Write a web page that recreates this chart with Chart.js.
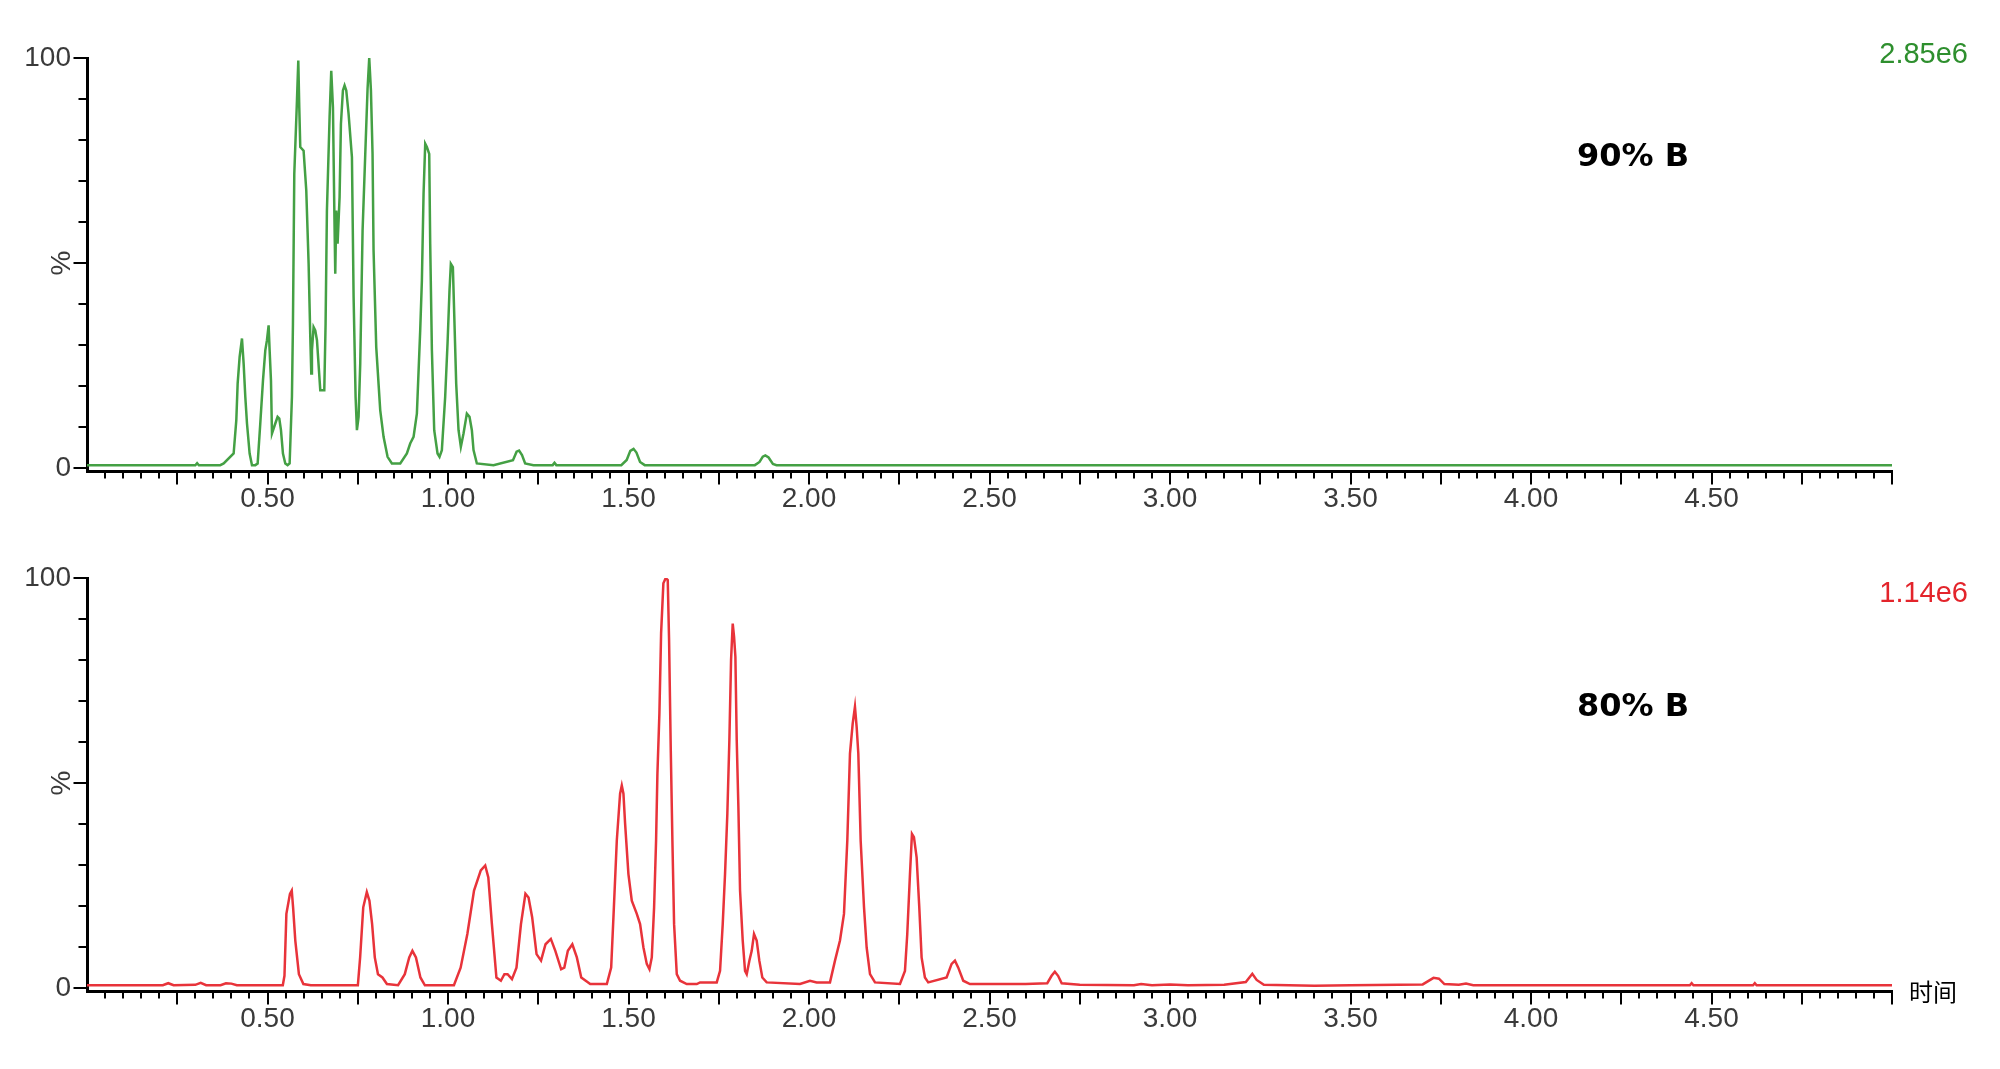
<!DOCTYPE html>
<html><head><meta charset="utf-8">
<script src="https://cdn.jsdelivr.net/npm/chart.js@4"></script>
<style>html,body{margin:0;padding:0;background:#fff;} canvas{display:block;}</style>
</head><body>
<canvas id="c1" width="2000" height="520"></canvas>
<canvas id="c2" width="2000" height="549"></canvas>
<script>
// ---- axis ticks ----
const xMajorTicks = [0.5, 1.0, 1.5, 2.0, 2.5, 3.0, 3.5, 4.0, 4.5];
const xTickLabels = ['0.50', '1.00', '1.50', '2.00', '2.50', '3.00', '3.50', '4.00', '4.50'];
const yTickValues = [0, 100];
const yTickLabels = ['0', '100'];

// ---- top trace: 90% B (time, min ; intensity, %) ----
const topTime = [
  0, 0.30, 0.305, 0.31, 0.369,
  0.3786, 0.4062, 0.4136, 0.4173, 0.4228, 0.4293, 0.4339, 0.4385, 0.4432, 0.4505, 0.457, 0.4662,
  0.4727, 0.480, 0.4875, 0.4939, 0.4985, 0.5031, 0.5059, 0.5096, 0.5124, 0.5216, 0.528, 0.5327, 0.5373, 0.5428, 0.5493, 0.5557,
  0.5613, 0.5677, 0.5705, 0.5742, 0.5816, 0.5853, 0.588, 0.5908, 0.600, 0.6074, 0.6139, 0.6185, 0.6213, 0.6231, 0.6277, 0.6323, 0.637, 0.6462, 0.6573,
  0.6609, 0.6646, 0.672, 0.6766, 0.6813, 0.685, 0.6877, 0.6905, 0.6942, 0.6997, 0.7034, 0.7089, 0.7135, 0.7182, 0.7246, 0.7339, 0.7385, 0.744, 0.7477, 0.7523, 0.7569, 0.7634, 0.7708, 0.7772, 0.7818, 0.7865, 0.791, 0.7938, 0.8012, 0.8123, 0.8215, 0.8326, 0.8446,
  0.8677, 0.8861, 0.8953, 0.9046, 0.9138, 0.923, 0.9277, 0.9323, 0.9369, 0.9415, 0.948, 0.9507, 0.9554, 0.9618, 0.971, 0.9765, 0.983, 0.9922, 0.9987, 1.0042, 1.0079, 1.0135, 1.0172, 1.0227, 1.0292, 1.0356, 1.043, 1.0522, 1.0596, 1.0661, 1.0707, 1.0799,
  1.126, 1.18, 1.19, 1.197, 1.205, 1.2137, 1.2368, 1.29, 1.295, 1.30, 1.48, 1.495, 1.505, 1.514, 1.522, 1.532, 1.545, 1.85, 1.863, 1.872, 1.879, 1.888, 1.90, 1.91, 5.0
];
const topPct = [
  0.7, 0.7, 1.2, 0.7, 0.73,
  1.14, 3.57, 11.69, 20.6, 27.1, 31.6, 25.5, 17.4, 10.88, 3.57, 0.73, 0.73,
  1.14, 10.88, 21.4, 28.7, 31.2, 34.8, 28.7, 21.4, 8.44, 10.88, 12.5, 12.1, 9.25, 3.57, 1.14, 0.73,
  1.14, 17.4, 35.2, 71.8, 89.6, 99.4, 88.0, 78.3, 77.4, 67.7, 49.8, 32.0, 23.1, 28.7, 34.4, 33.6, 31.2, 19.0, 19.0,
  35.2, 62.8, 85.6, 96.9, 88.0, 63.6, 47.4, 62.8, 54.7, 66.1, 83.9, 92.1, 93.3, 92.1, 86.4, 75.8, 41.7, 17.4, 9.25, 12.5, 25.5, 58.0, 76.6, 92.5, 100, 92.1, 76.6, 53.1, 29.5, 14.1, 7.63, 2.76, 1.14,
  1.14, 3.57, 6.0, 7.63, 13.3, 33.6, 45.8, 66.9, 79.1, 78.3, 76.6, 54.7, 28.7, 9.25, 3.57, 2.76, 4.38, 17.4, 30.4, 43.4, 49.8, 49.0, 37.7, 20.6, 9.25, 5.2, 8.44, 13.3, 12.5, 9.25, 4.38, 1.14,
  0.73, 1.95, 4.0, 4.3, 3.2, 1.14, 0.73, 0.73, 1.3, 0.73, 0.73, 2.0, 4.2, 4.7, 3.8, 1.5, 0.73, 0.73, 1.5, 2.8, 3.1, 2.6, 1.0, 0.73, 0.73
];

// ---- bottom trace: 80% B ----
const bottomTime = [
  0, 0.21, 0.225, 0.24, 0.30, 0.315, 0.33, 0.37, 0.385, 0.40, 0.415, 0.5424,
  0.5470, 0.5523, 0.5622, 0.5672, 0.5709, 0.577, 0.587, 0.5994, 0.62,
  0.7503, 0.7566, 0.7652, 0.7751, 0.7824, 0.7898, 0.7972, 0.806, 0.8184, 0.8308, 0.8617,
  0.8803, 0.8926, 0.9014, 0.9112, 0.9236, 0.936, 1.0164,
  1.035, 1.0536, 1.0721, 1.0908, 1.1031, 1.1117, 1.1216, 1.1341, 1.1465, 1.1562, 1.165, 1.1772, 1.1897, 1.2021, 1.2145, 1.2231, 1.2331, 1.2453, 1.2577, 1.2702, 1.2849, 1.2973, 1.3134, 1.3222, 1.332, 1.3444, 1.3569, 1.3691, 1.394, 1.44,
  1.452, 1.4583, 1.4676, 1.4767, 1.4814, 1.486, 1.4906, 1.4998, 1.5091, 1.523, 1.5321, 1.5414, 1.5506, 1.558, 1.5645, 1.5709, 1.5764, 1.5801, 1.5856, 1.5903, 1.5966, 1.6032, 1.6087, 1.6124, 1.6171, 1.6216, 1.6263, 1.6337, 1.6429, 1.6614,
  1.6891, 1.6982, 1.7444, 1.7536, 1.761, 1.7674, 1.7738, 1.7794, 1.7841, 1.7887, 1.7924, 1.7961, 1.7998, 1.8044, 1.809, 1.8164, 1.8228, 1.8275, 1.8348, 1.8413, 1.8477, 1.8551, 1.8624, 1.8707, 1.8828,
  1.9751, 2.0028, 2.0212, 2.0581, 2.072, 2.0858, 2.0969, 2.1061, 2.1135, 2.121, 2.1273, 2.132, 2.1366, 2.1431, 2.1524, 2.1597, 2.169, 2.1828, 2.252, 2.2658, 2.2722, 2.2797, 2.2852, 2.2907, 2.2981, 2.3055, 2.3119, 2.3211, 2.3304, 2.3812, 2.3951, 2.4043, 2.4135, 2.4273, 2.4458,
  2.60, 2.66, 2.672, 2.681, 2.69, 2.70, 2.75, 2.90, 2.92, 2.95, 3.00, 3.05, 3.15, 3.21, 3.228, 3.24, 3.26, 3.40, 3.50, 3.70, 3.73, 3.745, 3.76, 3.80, 3.82, 3.84, 4.44, 4.445, 4.45, 4.615, 4.62, 4.625, 5.0
];
const bottomPct = [
  0.7, 0.7, 1.2, 0.7, 0.8, 1.3, 0.7, 0.7, 1.2, 1.1, 0.7, 0.7,
  3.0, 18.1, 23.0, 23.8, 19.7, 11.6, 3.4, 1.0, 0.7,
  0.7, 7.5, 19.7, 23.4, 21.3, 15.6, 7.5, 3.4, 2.6, 1.0, 0.7,
  3.4, 7.5, 9.1, 7.5, 2.6, 0.7, 0.7,
  5.0, 13.2, 23.8, 28.7, 29.9, 27.0, 15.6, 2.6, 1.8, 3.4, 3.4, 2.2, 5.0, 15.6, 23.0, 22.1, 17.3, 8.3, 6.7, 10.7, 12.0, 9.1, 4.6, 5.0, 9.1, 10.7, 7.5, 2.6, 1.0, 1.0,
  5.0, 17.3, 36.0, 47.4, 49.4, 47.4, 40.1, 27.8, 21.3, 18.1, 15.6, 9.9, 5.9, 4.6, 7.5, 19.7, 36.0, 52.3, 67.0, 86.5, 98.7, 100, 99.5, 84.9, 58.0, 36.0, 15.6, 3.4, 1.8, 1.0,
  1.0, 1.4, 1.4, 4.2, 15.6, 27.8, 42.5, 60.4, 80.0, 88.9, 85.7, 80.8, 60.4, 44.1, 23.8, 11.6, 4.2, 3.4, 6.7, 9.1, 13.2, 11.6, 6.7, 2.6, 1.4,
  1.0, 1.8, 1.4, 1.4, 6.7, 11.6, 18.1, 36.0, 57.2, 64.5, 68.6, 63.7, 57.2, 36.0, 19.7, 9.9, 3.4, 1.4, 1.0, 4.2, 13.2, 27.8, 37.6, 36.8, 31.9, 19.7, 7.5, 2.6, 1.4, 2.6, 5.9, 6.7, 5.0, 1.8, 1.0,
  1.0, 1.2, 3.0, 4.0, 3.0, 1.2, 0.8, 0.7, 1.0, 0.7, 0.9, 0.7, 0.8, 1.5, 3.5, 2.0, 0.8, 0.6, 0.7, 0.9, 2.5, 2.3, 1.0, 0.8, 1.1, 0.7, 0.7, 1.2, 0.7, 0.7, 1.2, 0.7, 0.7
];

// ---- decoration plugin: minor ticks, rotated "%" label, annotations ----
const decorPlugin = {
  id: 'decor',
  afterDraw(chart) {
    const o = chart.options.plugins.decor;
    const ctx = chart.ctx;
    const ca = chart.chartArea;
    const xs = chart.scales.x, ys = chart.scales.y;
    ctx.save();
    ctx.strokeStyle = '#000';
    ctx.lineWidth = 2;
    ctx.beginPath();
    for (let i = 1; i <= 100; i++) {
      const px = Math.round(xs.getPixelForValue(i / 20));
      const len = i % 5 === 0 ? 12 : 6;
      ctx.moveTo(px, ca.bottom);
      ctx.lineTo(px, ca.bottom + 1.5 + len);
    }
    for (let j = 0; j <= 10; j++) {
      const py = Math.round(ys.getPixelForValue(j * 10));
      const len = (j % 5 === 0) ? 12 : 7;
      ctx.moveTo(ca.left, py);
      ctx.lineTo(ca.left - 1.5 - len, py);
    }
    ctx.stroke();

    // rotated % at 50
    ctx.save();
    ctx.fillStyle = '#3a3a3a';
    ctx.font = '28px "Liberation Sans", Arial, sans-serif';
    ctx.translate(ca.left - 25, ys.getPixelForValue(50));
    ctx.rotate(-Math.PI / 2);
    ctx.textAlign = 'center';
    ctx.textBaseline = 'middle';
    ctx.fillText('%', 0, 0);
    ctx.restore();

    // method label
    ctx.fillStyle = '#000';
    ctx.font = 'bold 32px "DejaVu Sans", Verdana, sans-serif';
    ctx.textAlign = 'left';
    ctx.textBaseline = 'middle';
    ctx.fillText(o.label, o.labelX, o.labelY);

    // intensity scale
    ctx.fillStyle = o.scaleColor;
    ctx.font = '29px "Liberation Sans", Arial, sans-serif';
    ctx.textAlign = 'right';
    ctx.fillText(o.scaleText, o.scaleX, o.scaleY);

    if (o.axisTitle) {
      ctx.fillStyle = '#000';
      ctx.font = '24px "Noto Sans CJK SC", sans-serif';
      ctx.textAlign = 'left';
      ctx.fillText(o.axisTitle, ca.right + 17, ca.bottom + 1);
    }
    ctx.restore();
  }
};

function makeChart(id, time, pct, color, decor, bottomPad) {
  const data = time.map((t, i) => ({ x: t, y: pct[i] }));
  return new Chart(document.getElementById(id), {
    type: 'line',
    data: { datasets: [{ data, borderColor: color, borderWidth: 2.5, pointRadius: 0, tension: 0, fill: false }] },
    plugins: [decorPlugin],
    options: {
      responsive: false,
      devicePixelRatio: 1,
      animation: false,
      layout: { padding: { top: 58, left: 0, right: 108, bottom: bottomPad } },
      plugins: { legend: { display: false }, tooltip: { enabled: false }, decor },
      scales: {
        x: {
          type: 'linear', min: 0, max: 5,
          afterBuildTicks: s => { s.ticks = xMajorTicks.map(v => ({ value: v })); },
          afterFit: s => { s.height = 40; },
          ticks: {
            autoSkip: false, maxRotation: 0, minRotation: 0, padding: 11, color: '#3a3a3a',
            font: { family: '"Liberation Sans", Arial, sans-serif', size: 28 },
            callback: (v, i) => xTickLabels[i]
          },
          grid: { drawOnChartArea: false, drawTicks: false },
          border: { color: '#000', width: 3 }
        },
        y: {
          type: 'linear', min: -0.7, max: 100,
          afterBuildTicks: s => { s.ticks = yTickValues.map(v => ({ value: v })); },
          afterFit: s => { s.width = 87; },
          ticks: {
            padding: 16, color: '#3a3a3a',
            font: { family: '"Liberation Sans", Arial, sans-serif', size: 28 },
            callback: (v, i) => yTickLabels[i]
          },
          grid: { drawOnChartArea: false, drawTicks: false },
          border: { color: '#000', width: 3 }
        }
      }
    }
  });
}

makeChart('c1', topTime, topPct, '#44a044',
  { label: '90% B', labelX: 1577, labelY: 158, scaleText: '2.85e6', scaleColor: '#2e8f2e', scaleX: 1968, scaleY: 55, axisTitle: null }, 9);
makeChart('c2', bottomTime, bottomPct, '#e8333a',
  { label: '80% B', labelX: 1577, labelY: 188, scaleText: '1.14e6', scaleColor: '#e3242b', scaleX: 1968, scaleY: 74, axisTitle: '时间' }, 38);
</script>
</body></html>
